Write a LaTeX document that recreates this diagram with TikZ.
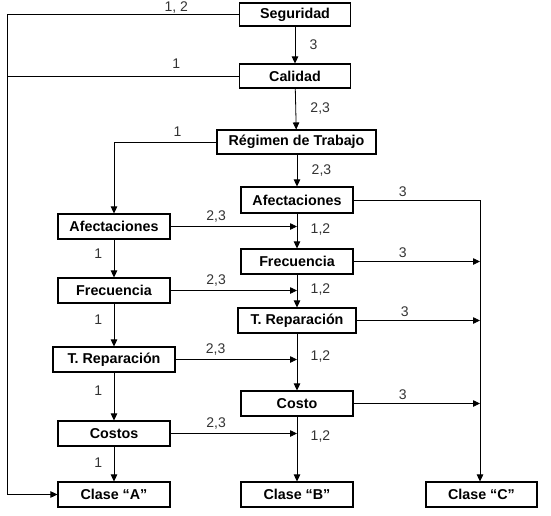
\documentclass[tikz,border=0pt]{standalone}
\usepackage{fontspec}
\setmainfont{Liberation Sans}
\usepackage{tikz}
\usetikzlibrary{arrows.meta,calc,positioning}

\begin{document}
\begin{tikzpicture}[x=1pt,y=-1pt]

\tikzset{block/.style={
  rectangle,
  inner sep=0pt,
  minimum width=112pt,
  minimum height=25pt,
  align=center,
  draw=black, fill=white,
  line width=1.1pt,
  font=\fontsize{14.3}{16}\selectfont\bfseries
  }}
\tikzset{lab/.style={font=\fontsize{14}{16}\selectfont, text=black!80}}
\tikzset{>={Triangle[length=7pt,width=6.5pt]}, every path/.style={line width=0.8pt}}

\useasboundingbox (0,0) rectangle (551,516);

\node[block, minimum width=111pt, minimum height=23pt] (seg) at (295,14.5) {Seguridad};
\node[block, minimum width=111pt, minimum height=24pt] (cal) at (295,76) {Calidad};
\node[block, minimum width=159pt, minimum height=24pt] (reg) at (296.5,142) {Régimen de Trabajo};

\node[block, minimum height=26pt] (afR) at (297,200) {Afectaciones};
\node[block] (frR) at (297,261.5) {Frecuencia};
\node[block, minimum width=118pt] (trR) at (297,320.5) {T. Reparación};
\node[block] (coR) at (297,403.5) {Costo};

\node[block] (afL) at (114,226.5) {Afectaciones};
\node[block] (frL) at (114,290.5) {Frecuencia};
\node[block, minimum width=122pt] (trL) at (114,359.5) {T. Reparación};
\node[block] (coL) at (114,433.5) {Costos};

\node[block] (clA) at (114,494.5) {Clase “A”};
\node[block] (clB) at (297,494.5) {Clase “B”};
\node[block, minimum width=111pt] (clC) at (481.5,494.5) {Clase “C”};

\coordinate (lft) at (7,0);
\coordinate (rgt) at (480,0);

% rama izquierda
\path[draw,->] (seg) -- node[lab, above=-3pt, pos=.27] {1, 2} (seg -| lft) |- (clA);
\path[draw] (cal) -- node[lab, above=4pt, pos=.27] {1} (cal -| lft);
\path[draw,->] (reg) -| node[lab, above=2pt, pos=.19] {1} (afL);

% eje central
\path[draw,->] (seg) -- node[lab, right=11pt] {3} (cal);
\path[draw,->] (cal) -- node[lab, right=11pt] {2,3} (reg);
\path[draw,->] (reg.south -| afR) -- node[lab, right=11pt] {2,3} (afR);
\path[draw,->] (afR) -- node[lab, right=10pt, pos=.45] {1,2} (frR);
\path[draw,->] (frR) -- node[lab, right=10pt, pos=.45] {1,2} (trR);
\path[draw,->] (trR) -- node[lab, right=10pt, pos=.4] {1,2} (coR);
\path[draw,->] (coR) -- node[lab, right=10pt, pos=.3] {1,2} (clB);

% columna izquierda
\path[draw,->] (afL) -- node[lab, left=8pt, pos=.38] {1} (frL);
\path[draw,->] (frL) -- node[lab, left=8pt, pos=.38] {1} (trL);
\path[draw,->] (trL) -- node[lab, left=8pt, pos=.38] {1} (coL);
\path[draw,->] (coL) -- node[lab, left=8pt, pos=.45] {1} (clA);

\path[draw,->] (afL) -- node[lab, above, pos=.36] {2,3} (afL -| afR);
\path[draw,->] (frL) -- node[lab, above, pos=.36] {2,3} (frL -| afR);
\path[draw,->] (trL) -- node[lab, above, pos=.33] {2,3} (trL -| afR);
\path[draw,->] (coL) -- node[lab, above, pos=.36] {2,3} (coL -| afR);

% rama derecha
\path[draw,->] (afR) -- node[lab, above, pos=.39] {3} (afR -| rgt) -- (rgt |- clC.north);
\path[draw,->] (frR) -- node[lab, above, pos=.39] {3} (frR -| rgt);
\path[draw,->] (trR) -- node[lab, above, pos=.39] {3} (trR -| rgt);
\path[draw,->] (coR) -- node[lab, above, pos=.39] {3} (coR -| rgt);

\end{tikzpicture}
\end{document}
